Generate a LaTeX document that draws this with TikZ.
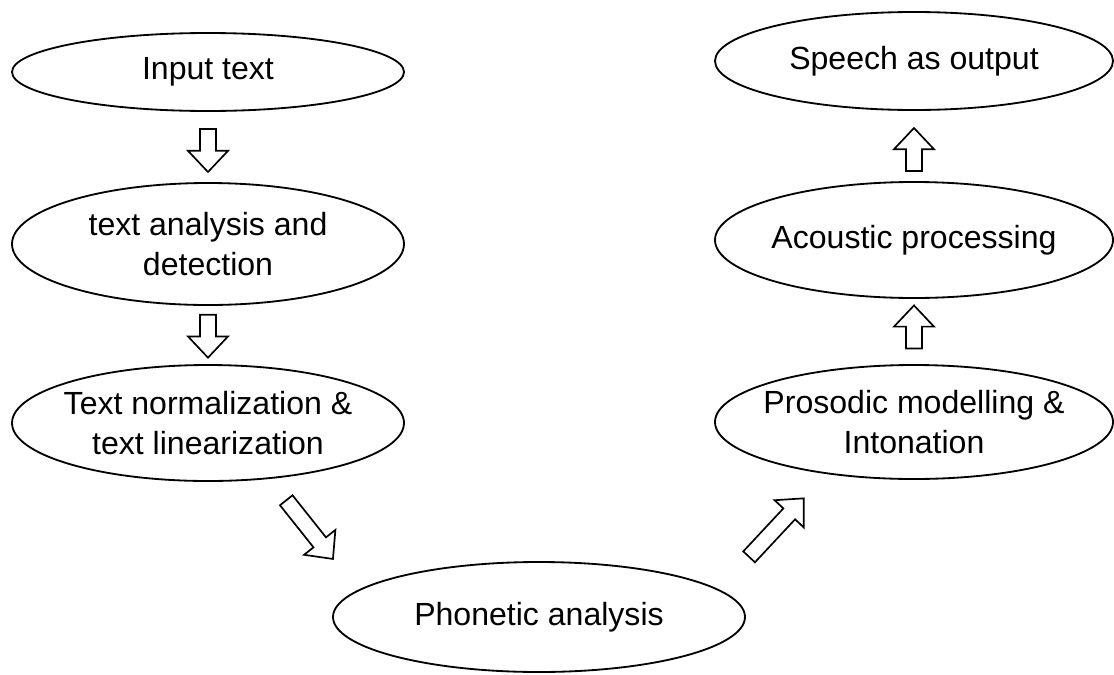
\documentclass[tikz,border=0pt]{standalone}
\usepackage{fontspec}
\setmainfont{Liberation Sans}
\usetikzlibrary{shapes.geometric,calc}
\begin{document}
\begin{tikzpicture}[
    bubble/.style={draw, ellipse, line width=1.3pt, inner sep=0pt},
    txt/.style={align=center, inner sep=0pt, font=\fontsize{22.8}{29}\selectfont},
    hollow/.style={draw, line width=1.2pt, fill=white, line join=miter},
    fat/.pic={
      \path[hollow] (-#1/2,0.2) -- (#1/2-0.53,0.2) -- (#1/2-0.53,0.5) -- (#1/2,0)
        -- (#1/2-0.53,-0.5) -- (#1/2-0.53,-0.2) -- (-#1/2,-0.2) -- cycle;
    }
  ]
  \useasboundingbox (0,0) rectangle (27.85,-16.85);

  % left column, going down
  \node[bubble, minimum width=9.8cm, minimum height=1.95cm] (inp) at (5.2,-1.8) {};
  \node[txt] (inp-t) at (inp) {Input text};
  \node[bubble, minimum width=9.8cm, minimum height=3.05cm] (ana) at (5.2,-6.1) {};
  \node[txt] (ana-t) at (ana) {text analysis and\\ detection};
  \node[bubble, minimum width=9.8cm, minimum height=2.9cm] (nor) at (5.2,-10.575) {};
  \node[txt] (nor-t) at (nor) {Text normalization \&\\ text linearization};

  % bottom
  \node[bubble, minimum width=10.3cm, minimum height=2.75cm] (pho) at (13.475,-15.425) {};
  \node[txt] (pho-t) at (pho) {Phonetic analysis};

  % right column, going up
  \node[bubble, minimum width=9.95cm, minimum height=2.85cm] (pro) at (22.85,-10.55) {};
  \node[txt] (pro-t) at (pro) {Prosodic modelling \&\\ Intonation};
  \node[bubble, minimum width=9.95cm, minimum height=2.9cm] (aco) at (22.85,-6.0) {};
  \node[txt] (aco-t) at (aco) {Acoustic processing};
  \node[bubble, minimum width=9.95cm, minimum height=2.45cm] (spe) at (22.85,-1.525) {};
  \node[txt] (spe-t) at (spe) {Speech as output};

  % hollow arrows
  \pic[rotate=-90] at ($(inp.south)!0.55!(ana.north)$) {fat=1.075};
  \pic[rotate=-90] at ($(ana.south)!0.52!(nor.north)$) {fat=1.075};
  \pic[rotate=-51.5] at (7.74,-13.24) {fat=1.875};
  \pic[rotate=47] at (19.41,-13.19) {fat=2.0};
  \pic[rotate=90] at ($(pro.north)!0.57!(aco.south)$) {fat=1.075};
  \pic[rotate=90] at ($(aco.north)!0.45!(spe.south)$) {fat=1.075};
\end{tikzpicture}
\end{document}
